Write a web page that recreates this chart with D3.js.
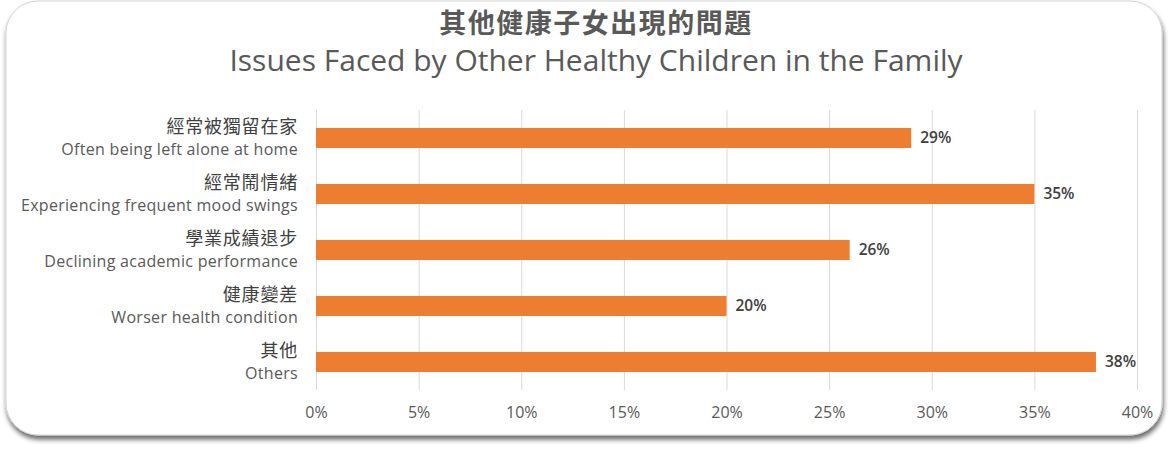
<!DOCTYPE html>
<html>
<head>
<meta charset="utf-8">
<script src="https://cdn.jsdelivr.net/npm/d3@7"></script>
<style>
  body { margin: 0; background: #fff; }
  svg text { font-family: "Open Sans", "Noto Sans CJK TC", sans-serif; }
</style>
</head>
<body>
<div class="chart"></div>
<script>
// DATA ------------------------------
const labelsZh = ["經常被獨留在家", "經常鬧情緒", "學業成績退步", "健康變差", "其他"];
const labelsEn = ["Often being left alone at home", "Experiencing frequent mood swings",
                  "Declining academic performance", "Worser health condition", "Others"];
const values = [29, 35, 26, 20, 38];
const tickValues = [0, 5, 10, 15, 20, 25, 30, 35, 40];

// CHART INIT ------------------------------
const W = 1168, H = 449;
const margin = ({top: 110, right: 31, bottom: 59, left: 316});
const width = W - margin.left - margin.right;
const height = H - margin.top - margin.bottom;

const root = d3.select(".chart")
    .append("svg")
    .attr("width", W)
    .attr("height", H);

// frame with shadow
const defs = root.append("defs");
const f = defs.append("filter").attr("id", "shadow")
    .attr("x", "-5%").attr("y", "-5%").attr("width", "110%").attr("height", "115%");
f.append("feGaussianBlur").attr("in", "SourceAlpha").attr("stdDeviation", 2.5);
f.append("feOffset").attr("dx", 1).attr("dy", 4).attr("result", "b");
f.append("feComponentTransfer").append("feFuncA").attr("type", "linear").attr("slope", 0.6);
const m = f.append("feMerge");
m.append("feMergeNode");
m.append("feMergeNode").attr("in", "SourceGraphic");

root.append("rect")
    .attr("x", 6).attr("y", 1)
    .attr("width", 1156).attr("height", 434)
    .attr("rx", 32).attr("ry", 32)
    .attr("fill", "#fff")
    .attr("stroke", "#d4d4d4")
    .attr("stroke-width", 1)
    .style("filter", "url(#shadow)");

// titles
root.append("text")
    .attr("x", 596).attr("y", 33)
    .attr("text-anchor", "middle")
    .attr("font-size", "27px")
    .attr("font-weight", "bold")
    .attr("fill", "#595959")
    .style("font-family", "'Noto Sans CJK TC', sans-serif")
    .style("letter-spacing", "1.5px")
    .text("其他健康子女出現的問題");
root.append("text")
    .attr("x", 596).attr("y", 71)
    .attr("text-anchor", "middle")
    .attr("font-size", "30px")
    .attr("fill", "#595959")
    .text("Issues Faced by Other Healthy Children in the Family");

const svg = root.append("g")
    .attr("transform", "translate(" + margin.left + "," + margin.top + ")");

// scales
let xScale = d3.scaleLinear()
    .domain([0, 40])
    .range([0, width]);
let yScale = d3.scaleBand()
    .domain(labelsEn)
    .range([0, height])
    .paddingInner(0.643)
    .paddingOuter(0.3215);

// grid
svg.append("g")
    .attr("class", "grid")
    .call(d3.axisBottom(xScale).tickValues(tickValues).tickSize(height).tickFormat(""))
    .call(g => g.select(".domain").remove())
    .call(g => g.selectAll("line").attr("stroke", "#d9d9d9").attr("stroke-width", 1));

// x axis labels
svg.append("g")
    .attr("class", "axis x-axis")
    .attr("transform", `translate(0, ${height})`)
    .call(d3.axisBottom(xScale).tickValues(tickValues).tickSize(0).tickPadding(17).tickFormat(d => d + "%"))
    .call(g => g.select(".domain").remove())
    .call(g => g.selectAll("text")
        .attr("font-size", "16px")
        .attr("fill", "#595959")
        .style("font-family", "'Open Sans', sans-serif"));

// bars
svg.selectAll("rect.bar")
    .data(values)
    .enter()
    .append("rect")
    .attr("class", "bar")
    .attr("x", 0)
    .attr("y", (d, i) => yScale(labelsEn[i]))
    .attr("width", d => xScale(d))
    .attr("height", yScale.bandwidth())
    .attr("fill", "#ed7d31");

// value labels
svg.selectAll("text.val")
    .data(values)
    .enter()
    .append("text")
    .attr("class", "val")
    .attr("x", d => xScale(d) + 9)
    .attr("y", (d, i) => yScale(labelsEn[i]) + yScale.bandwidth() / 2)
    .attr("dy", "0.35em")
    .attr("font-size", "15.5px")
    .attr("font-weight", 600)
    .attr("fill", "#404040")
    .text(d => d + "%");

// category labels
const cats = svg.selectAll("g.cat")
    .data(labelsEn)
    .enter()
    .append("g")
    .attr("class", "cat")
    .attr("transform", d => `translate(-18, ${yScale(d) + yScale.bandwidth() / 2})`);
cats.append("text")
    .attr("text-anchor", "end")
    .attr("y", -5)
    .attr("font-size", "18px")
    .attr("fill", "#404040")
    .style("font-family", "'Noto Sans CJK TC', sans-serif")
    .style("letter-spacing", "0.8px")
    .text((d, i) => labelsZh[i]);
cats.append("text")
    .attr("text-anchor", "end")
    .attr("y", 17)
    .attr("font-size", "16px")
    .attr("fill", "#595959")
    .style("letter-spacing", "0.3px")
    .text(d => d);
</script>
</body>
</html>
